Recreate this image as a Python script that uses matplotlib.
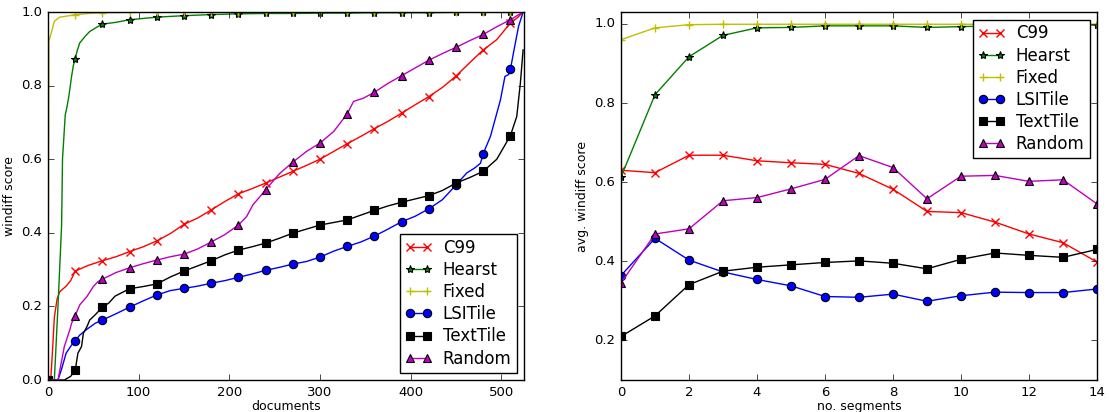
import numpy as np
import matplotlib
matplotlib.use("Agg")
import matplotlib.pyplot as plt

plt.style.use("classic")
plt.rcParams["font.family"] = ["DejaVu Sans"]
plt.rcParams["figure.facecolor"] = "white"
plt.rcParams["savefig.facecolor"] = "white"

series_names = ["C99", "Hearst", "Fixed", "LSITile", "TextTile", "Random"]

# ---- per-document windiff scores (sorted), left panel ----
c99_docs = [0, 3, 5, 7, 10, 13, 20, 25, 30, 45, 60, 75, 90, 105, 120, 135, 150, 165,
            180, 195, 210, 225, 240, 255, 270, 285, 300, 315, 330, 345, 360, 375, 390,
            405, 420, 435, 450, 465, 480, 495, 510, 518, 524]
c99_scores = [0.0, 0.0, 0.08, 0.17, 0.22, 0.24, 0.255, 0.27, 0.296, 0.312, 0.324, 0.335,
              0.349, 0.362, 0.378, 0.398, 0.423, 0.44, 0.462, 0.485, 0.506, 0.52, 0.535,
              0.551, 0.567, 0.583, 0.600, 0.621, 0.642, 0.662, 0.683, 0.703, 0.725, 0.748,
              0.770, 0.795, 0.826, 0.862, 0.897, 0.925, 0.970, 0.985, 1.0]

hearst_docs = [0, 7, 11, 15, 16, 17, 19, 21, 23, 26, 28, 30, 32, 35, 41, 46, 54, 60, 75,
               90, 120, 150, 180, 210, 240, 270, 300, 330, 360, 390, 420, 450, 480, 510, 524]
hearst_scores = [0.0, 0.0, 0.2, 0.42, 0.6, 0.64, 0.72, 0.743, 0.771, 0.825, 0.855, 0.873,
                 0.893, 0.916, 0.934, 0.947, 0.959, 0.967, 0.972, 0.979, 0.986, 0.99,
                 0.993, 0.995, 0.996, 0.996, 0.997, 0.997, 0.998, 0.998, 0.998, 0.999,
                 0.999, 0.999, 1.0]

fixed_docs = [0, 1, 4, 7, 13, 24, 30, 45, 60, 90, 120, 150, 180, 210, 240, 270, 300, 330,
              360, 390, 420, 450, 480, 510, 524]
fixed_scores = [0.0, 0.92, 0.947, 0.975, 0.986, 0.99, 0.993, 0.996, 0.998, 0.999, 0.999,
                1.0, 1.0, 1.0, 1.0, 1.0, 1.0, 1.0, 1.0, 1.0, 1.0, 1.0, 1.0, 1.0, 1.0]

lsi_docs = [0, 11, 15, 20, 26, 30, 35, 43, 52, 60, 75, 90, 105, 120, 135, 150, 165, 180,
            195, 210, 225, 240, 255, 270, 285, 300, 315, 330, 345, 360, 375, 390, 405,
            420, 435, 450, 462, 470, 477, 480, 488, 499, 504, 508, 510, 514, 519, 524]
lsi_scores = [0.0, 0.0, 0.03, 0.073, 0.095, 0.107, 0.122, 0.138, 0.154, 0.163, 0.18,
              0.198, 0.215, 0.231, 0.243, 0.249, 0.255, 0.263, 0.27, 0.279, 0.288, 0.298,
              0.306, 0.315, 0.322, 0.334, 0.35, 0.363, 0.375, 0.391, 0.41, 0.430, 0.445,
              0.465, 0.49, 0.530, 0.563, 0.575, 0.589, 0.615, 0.662, 0.761, 0.825, 0.83,
              0.844, 0.897, 0.961, 1.0]

text_docs = [0, 18, 25, 30, 33, 37, 39, 43, 46, 52, 60, 67, 74, 90, 105, 120, 135, 150,
             165, 180, 195, 210, 225, 240, 255, 270, 285, 300, 315, 330, 345, 360, 375,
             390, 405, 420, 435, 450, 465, 480, 495, 510, 517, 521, 524]
text_scores = [0.0, 0.0, 0.01, 0.026, 0.073, 0.091, 0.127, 0.145, 0.163, 0.177, 0.198,
               0.209, 0.228, 0.248, 0.254, 0.261, 0.28, 0.296, 0.31, 0.324, 0.34, 0.353,
               0.362, 0.372, 0.385, 0.399, 0.41, 0.421, 0.428, 0.435, 0.448, 0.461,
               0.473, 0.483, 0.492, 0.501, 0.515, 0.535, 0.55, 0.567, 0.6, 0.664, 0.716,
               0.807, 0.897]

rand_docs = [0, 11, 18, 24, 26, 30, 35, 43, 50, 55, 60, 75, 90, 105, 120, 135, 150, 165,
             180, 195, 210, 219, 226, 234, 240, 255, 270, 285, 300, 315, 330, 337, 348,
             360, 375, 390, 405, 420, 435, 450, 465, 480, 495, 510, 524]
rand_scores = [0.0, 0.0, 0.091, 0.136, 0.154, 0.175, 0.204, 0.227, 0.254, 0.267, 0.274,
               0.292, 0.305, 0.316, 0.326, 0.335, 0.342, 0.356, 0.375, 0.395, 0.421,
               0.444, 0.476, 0.499, 0.517, 0.56, 0.592, 0.621, 0.644, 0.675, 0.723,
               0.757, 0.766, 0.782, 0.806, 0.827, 0.848, 0.869, 0.887, 0.904, 0.922,
               0.939, 0.96, 0.979, 1.0]

# ---- average windiff score by number of segments, right panel ----
n_segments = list(range(15))
c99_avg = [0.630, 0.624, 0.668, 0.668, 0.654, 0.649, 0.645, 0.622, 0.582, 0.526, 0.523,
           0.499, 0.469, 0.447, 0.398]
hearst_avg = [0.613, 0.821, 0.917, 0.971, 0.990, 0.991, 0.995, 0.995, 0.995, 0.991,
              0.993, 0.995, 0.995, 0.996, 0.997]
fixed_avg = [0.960, 0.990, 0.998, 0.999, 0.999, 0.999, 0.999, 0.999, 0.999, 0.999,
             0.999, 0.999, 0.999, 0.999, 0.999]
lsi_avg = [0.364, 0.458, 0.403, 0.373, 0.354, 0.338, 0.311, 0.309, 0.317, 0.299, 0.313,
           0.322, 0.321, 0.321, 0.330]
text_avg = [0.210, 0.262, 0.341, 0.375, 0.385, 0.391, 0.397, 0.401, 0.395, 0.381, 0.405,
            0.421, 0.415, 0.410, 0.430]
rand_avg = [0.345, 0.469, 0.482, 0.553, 0.561, 0.583, 0.607, 0.667, 0.637, 0.558, 0.615,
            0.617, 0.602, 0.606, 0.545]

styles = [
    dict(color="r", marker="x", mec="r", mew=1.0),
    dict(color="g", marker="*", mfc="g", mec="k", mew=0.8),
    dict(color="y", marker="+", mec="y", mew=1.0),
    dict(color="b", marker="o", mfc="b", mec="k", mew=0.8),
    dict(color="k", marker="s", mfc="k", mec="k", mew=0.8),
    dict(color="m", marker="^", mfc="m", mec="k", mew=0.8),
]

left_data = [(c99_docs, c99_scores), (hearst_docs, hearst_scores),
             (fixed_docs, fixed_scores), (lsi_docs, lsi_scores),
             (text_docs, text_scores), (rand_docs, rand_scores)]
right_data = [c99_avg, hearst_avg, fixed_avg, lsi_avg, text_avg, rand_avg]

legend_opts = dict(fontsize=12, numpoints=2, fancybox=False, borderaxespad=0.45,
                   handlelength=1.6, labelspacing=0.25, handletextpad=0.65,
                   borderpad=0.3)

fig = plt.figure(figsize=(11.09, 4.12), dpi=100)
ax1 = fig.add_axes([48 / 1109, 32 / 412, 476 / 1109, 368 / 412])
ax2 = fig.add_axes([621 / 1109, 32 / 412, 476 / 1109, 368 / 412])

for name, (docs, scores), st in zip(series_names, left_data, styles):
    docs = np.asarray(docs)
    mask = (docs % 30 == 0) & (docs <= 510)
    ax1.plot(docs, scores, label=name, lw=1.0, ms=6, markevery=list(mask), **st)

ax1.set_xlim(0, 525)
ax1.set_ylim(0.0, 1.0)
ax1.set_xticks([0, 100, 200, 300, 400, 500])
ax1.set_yticks([0.0, 0.2, 0.4, 0.6, 0.8, 1.0])
ax1.set_xlabel("documents", fontsize=9, labelpad=1)
ax1.set_ylabel("windiff score", fontsize=9, labelpad=4)
ax1.legend(loc="lower right", **legend_opts)

for name, vals, st in zip(series_names, right_data, styles):
    ax2.plot(n_segments, vals, label=name, lw=1.0, ms=6, **st)

ax2.set_xlim(0, 14)
ax2.set_ylim(0.1, 1.03)
ax2.set_xticks(range(0, 15, 2))
ax2.set_yticks([0.2, 0.4, 0.6, 0.8, 1.0])
ax2.set_xlabel("no. segments", fontsize=9, labelpad=1)
ax2.set_ylabel("avg. windiff score", fontsize=9, labelpad=4)
ax2.legend(loc="upper right", **legend_opts)

for ax in (ax1, ax2):
    ax.tick_params(labelsize=9.5, direction="in", length=4, pad=4)

fig.savefig("out.png", dpi=100)
